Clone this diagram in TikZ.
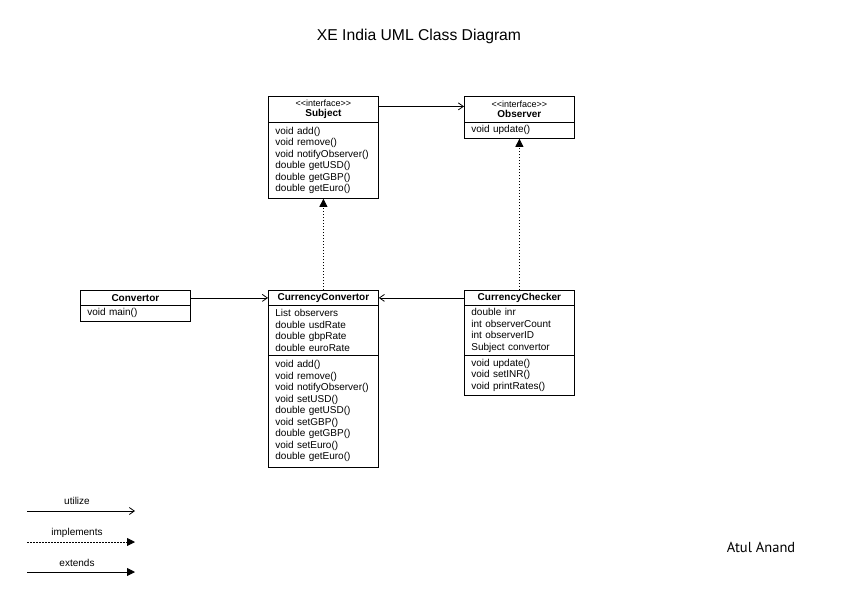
\documentclass[tikz,border=0pt]{standalone}
\usepackage{fontspec}
\setmainfont{Liberation Sans}
\newfontfamily\signfont{PT Sans}
\usepackage{tikz}
\usetikzlibrary{arrows.meta,positioning}
\definecolor{umlline}{HTML}{000000}

\begin{document}
\begin{tikzpicture}[x=1pt,y=-1pt,
    classpart/.style={draw=umlline,line width=0.8pt,rectangle,anchor=north west,minimum width=110pt,
      text width=96pt,inner xsep=7pt,inner ysep=0pt,align=left,font=\fontsize{10}{11.5}\selectfont},
    classhead/.style={classpart,align=center,font=\fontsize{10}{10.5}\selectfont},
    utilize/.style={line width=0.8pt,-{Straight Barb[length=5pt,width=7pt]}},
    implements/.style={line width=0.8pt,dash pattern=on 1.5pt off 1.5pt,-{Triangle[length=8pt,width=8pt]}},
    extends/.style={line width=0.8pt,-{Triangle[length=8pt,width=8pt]}},
    legendtext/.style={font=\fontsize{10}{12}\selectfont}]
    \fill[white] (0,0) rectangle (842,595);
    \useasboundingbox (0,0) rectangle (842,595);
    \node[font=\fontsize{15.7}{18}\selectfont] (title) at (419,36) {XE India UML Class Diagram};
    % interfaces
    \node[classhead,minimum height=26pt] (subjHead) at (268,96) {{\fontsize{9}{10}\selectfont <{}<interface>{}>}\\\textbf{Subject}};
    \node[classpart,minimum height=76pt] (subjOps) at (268,122) {void add()\\void remove()\\void notifyObserver()\\double getUSD()\\double getGBP()\\double getEuro()};
    \node[classhead,minimum height=26pt] (obsHead) at (464,96) {{\fontsize{9}{10}\selectfont <{}<interface>{}>}\\\textbf{Observer}};
    \node[classpart,minimum height=16pt] (obsOps) at (464,122) {void update()};
    % classes
    \node[classhead,minimum height=15pt] (convHead) at (80,290) {\textbf{Convertor}};
    \node[classpart,minimum height=16pt] (convOps) at (80,305) {void main()};
    \node[classhead,minimum height=15pt] (ccHead) at (268,290) {\textbf{CurrencyConvertor}};
    \node[classpart,minimum height=50pt] (ccAttr) at (268,305) {List observers\\double usdRate\\double gbpRate\\double euroRate};
    \node[classpart,minimum height=112pt] (ccOps) at (268,355) {void add()\\void remove()\\void notifyObserver()\\void setUSD()\\double getUSD()\\void setGBP()\\double getGBP()\\void setEuro()\\double getEuro()};
    \node[classhead,minimum height=15pt] (chkHead) at (464,290) {\textbf{CurrencyChecker}};
    \node[classpart,minimum height=50pt] (chkAttr) at (464,305) {double inr\\int observerCount\\int observerID\\Subject convertor};
    \node[classpart,minimum height=40pt] (chkOps) at (464,355) {void update()\\void setINR()\\void printRates()};
    % relations
    \draw[utilize] ([yshift=3pt]subjHead.east) -- ([yshift=3pt]obsHead.west);
    \draw[implements] (ccHead.north) -- (subjOps.south);
    \draw[implements] (chkHead.north) -- (obsOps.south);
    \draw[utilize] (convHead.east) -- (ccHead.west);
    \draw[utilize] (chkHead.west) -- (ccHead.east);
    % legend
    \coordinate (utilA) at (27,511); \coordinate (utilB) at (135,511);
    \coordinate (implA) at (27,542); \coordinate (implB) at (135,542);
    \coordinate (extA) at (27,572); \coordinate (extB) at (135,572);
    \draw[utilize] (utilA) -- (utilB);
    \draw[implements] (implA) -- (implB);
    \draw[extends] (extA) -- (extB);
    \node[legendtext] (utilLabel) at (77,501) {utilize};
    \node[legendtext] (implLabel) at (77,533) {implements};
    \node[legendtext] (extLabel) at (77,563) {extends};
    \node[font=\signfont\fontsize{14.5}{17}\selectfont] (author) at (761,547) {Atul Anand};
\end{tikzpicture}
\end{document}
